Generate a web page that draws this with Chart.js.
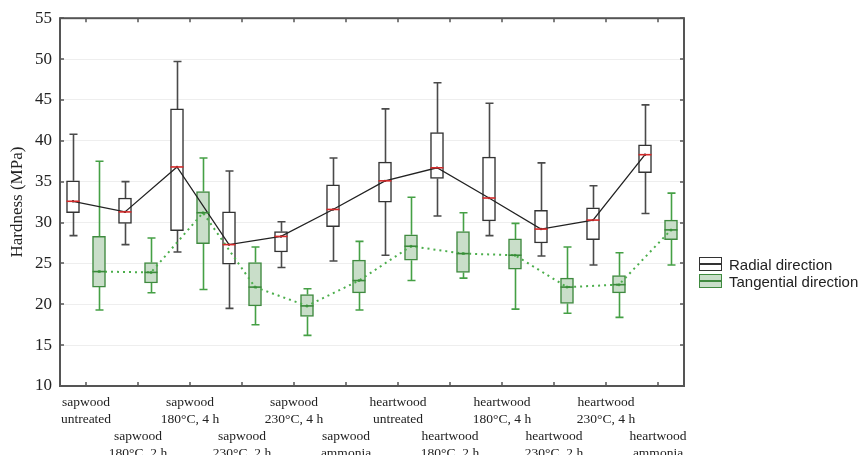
<!DOCTYPE html>
<html>
<head>
<meta charset="utf-8">
<script src="https://cdn.jsdelivr.net/npm/chart.js@4.4.1/dist/chart.umd.min.js"></script>
<style>
  html, body { margin: 0; padding: 0; background: #fff; }
  #wrap { position: relative; width: 862px; height: 455px; }
  #legend { position: absolute; left: 699px; top: 256px; font-family: "Liberation Sans", Arial, sans-serif; font-size: 15px; color: #222; }
  .li { position: relative; height: 17px; line-height: 17px; white-space: nowrap; }
  .ic { position: absolute; left: 0; top: 1px; width: 21px; height: 12px; box-sizing: content-box; }
  .ic::after { content: ""; position: absolute; left: 0; right: 0; top: 5px; height: 1.5px; }
  .rad { border: 1.5px solid #333; background: #fff; }
  .rad::after { background: #333; }
  .tan { border: 1.5px solid #3f8a3f; background: #c9dec9; }
  .tan::after { background: #3f8a3f; }
  .tx { position: absolute; left: 30px; top: 0; }
</style>
</head>
<body>
<div id="wrap">
  <canvas id="c" width="862" height="455"></canvas>
  <div id="legend">
    <div class="li"><span class="ic rad"></span><span class="tx">Radial direction</span></div>
    <div class="li"><span class="ic tan"></span><span class="tx">Tangential direction</span></div>
  </div>
</div>
<script>
// ---- data ----
const categories = [
  ['sapwood', 'untreated'],
  ['sapwood', '180°C, 2 h'],
  ['sapwood', '180°C, 4 h'],
  ['sapwood', '230°C, 2 h'],
  ['sapwood', '230°C, 4 h'],
  ['sapwood', 'ammonia'],
  ['heartwood', 'untreated'],
  ['heartwood', '180°C, 2 h'],
  ['heartwood', '180°C, 4 h'],
  ['heartwood', '230°C, 2 h'],
  ['heartwood', '230°C, 4 h'],
  ['heartwood', 'ammonia']
];
const seriesNames = ['Radial direction', 'Tangential direction'];
const yTicks = [10, 15, 20, 25, 30, 35, 40, 45, 50, 55];

const radialMin    = [28.4, 27.3, 26.4, 19.5, 24.5, 25.3, 26.0, 30.8, 28.4, 25.9, 24.8, 31.1];
const radialQ1     = [31.2, 29.9, 29.0, 24.9, 26.4, 29.5, 32.5, 35.4, 30.2, 27.5, 27.9, 36.1];
const radialMedian = [32.6, 31.3, 36.8, 27.3, 28.3, 31.6, 35.1, 36.7, 33.0, 29.2, 30.3, 38.3];
const radialQ3     = [35.1, 33.0, 43.9, 31.3, 28.9, 34.6, 37.4, 41.0, 38.0, 31.5, 31.8, 39.5];
const radialMax    = [40.8, 35.0, 49.7, 36.3, 30.1, 37.9, 43.9, 47.1, 44.6, 37.3, 34.5, 44.4];

const tangMin    = [19.3, 21.4, 21.8, 17.5, 16.2, 19.3, 22.9, 23.2, 19.4, 18.9, 18.4, 24.8];
const tangQ1     = [22.1, 22.6, 27.4, 19.8, 18.5, 21.4, 25.4, 23.9, 24.3, 20.1, 21.4, 27.9];
const tangMedian = [24.0, 23.9, 31.2, 22.1, 19.8, 22.9, 27.1, 26.2, 26.0, 22.1, 22.4, 29.1];
const tangQ3     = [28.3, 25.1, 33.8, 25.1, 21.2, 25.4, 28.5, 28.9, 28.0, 23.2, 23.5, 30.3];
const tangMax    = [37.5, 28.1, 37.9, 27.0, 21.9, 27.7, 33.1, 31.2, 29.9, 27.0, 26.3, 33.6];

// ---- styles ----
const OFFSET = 0.25;
const radColor = '#333333', radWhisker = '#4a4a4a', radMedianColor = '#d42a2a';
const tanBorder = '#3f8a3f', tanWhisker = '#45a045', tanFill = '#c9dec9', tanMedianColor = '#3a8a3a';
const serif = '"Liberation Serif", "Times New Roman", serif';

const idx = categories.map((_, i) => i);
const radBoxes = idx.map(i => ({ x: i - OFFSET, y: [radialQ1[i], radialQ3[i]] }));
const tanBoxes = idx.map(i => ({ x: i + OFFSET, y: [tangQ1[i], tangQ3[i]] }));
const radLine = idx.map(i => ({ x: i - OFFSET, y: radialMedian[i] }));
const tanLine = idx.map(i => ({ x: i + OFFSET, y: tangMedian[i] }));

const boxPlugin = {
  id: 'boxparts',
  beforeDatasetsDraw(chart) {
    const { ctx, scales: { x, y } } = chart;
    const cap = 4;
    const drawW = (off, mins, q1s, q3s, maxs, color) => {
      ctx.save();
      ctx.strokeStyle = color; ctx.lineWidth = 1.6;
      idx.forEach(i => {
        const px = Math.round(x.getPixelForValue(i + off)) + 0.5;
        ctx.beginPath();
        ctx.moveTo(px, y.getPixelForValue(maxs[i])); ctx.lineTo(px, y.getPixelForValue(q3s[i]));
        ctx.moveTo(px, y.getPixelForValue(q1s[i])); ctx.lineTo(px, y.getPixelForValue(mins[i]));
        ctx.moveTo(px - cap, y.getPixelForValue(maxs[i])); ctx.lineTo(px + cap, y.getPixelForValue(maxs[i]));
        ctx.moveTo(px - cap, y.getPixelForValue(mins[i])); ctx.lineTo(px + cap, y.getPixelForValue(mins[i]));
        ctx.stroke();
      });
      ctx.restore();
    };
    drawW(-OFFSET, radialMin, radialQ1, radialQ3, radialMax, radWhisker);
    drawW(OFFSET, tangMin, tangQ1, tangQ3, tangMax, tanWhisker);
  },
  afterDatasetsDraw(chart) {
    const { ctx, scales: { x, y } } = chart;
    const half = 6.5;
    const drawM = (off, meds, color) => {
      ctx.save();
      ctx.strokeStyle = color; ctx.lineWidth = 1.6;
      idx.forEach(i => {
        const px = x.getPixelForValue(i + off);
        const py = y.getPixelForValue(meds[i]);
        ctx.beginPath(); ctx.moveTo(px - half, py); ctx.lineTo(px + half, py); ctx.stroke();
      });
      ctx.restore();
    };
    drawM(-OFFSET, radialMedian, radMedianColor);
    drawM(OFFSET, tangMedian, tanMedianColor);
  },
  afterDraw(chart) {
    const { ctx, scales: { x, y }, chartArea: a } = chart;
    ctx.save();
    ctx.strokeStyle = '#555'; ctx.lineWidth = 2;
    ctx.strokeRect(a.left, a.top, a.right - a.left, a.bottom - a.top);
    ctx.lineWidth = 1.5;
    ctx.beginPath();
    idx.forEach(i => {
      const px = Math.round(x.getPixelForValue(i));
      ctx.moveTo(px, a.bottom); ctx.lineTo(px, a.bottom - 4);
      ctx.moveTo(px, a.top); ctx.lineTo(px, a.top + 4);
    });
    yTicks.forEach(v => {
      const py = Math.round(y.getPixelForValue(v));
      ctx.moveTo(a.left, py); ctx.lineTo(a.left + 4, py);
      ctx.moveTo(a.right, py); ctx.lineTo(a.right - 4, py);
    });
    ctx.stroke();
    ctx.restore();
  }
};

new Chart(document.getElementById('c'), {
  type: 'bar',
  data: {
    datasets: [
      { type: 'line', label: seriesNames[0] + ' line', data: radLine, borderColor: '#222', borderWidth: 1.3,
        pointRadius: 1.2, pointBackgroundColor: '#222', pointBorderWidth: 0, order: 0, tension: 0 },
      { type: 'line', label: seriesNames[1] + ' line', data: tanLine, borderColor: '#4cae4c', borderWidth: 2,
        borderDash: [2, 4], pointRadius: 1.5, pointBackgroundColor: '#4cae4c', pointBorderWidth: 0, order: 0, tension: 0 },
      { label: seriesNames[0], data: radBoxes, backgroundColor: '#ffffff', borderColor: radColor, borderWidth: 1.5,
        borderSkipped: false, barThickness: 13, grouped: false, order: 1 },
      { label: seriesNames[1], data: tanBoxes, backgroundColor: tanFill, borderColor: tanBorder, borderWidth: 1.5,
        borderSkipped: false, barThickness: 13, grouped: false, order: 1 }
    ]
  },
  options: {
    responsive: false,
    animation: false,
    events: [],
    layout: { padding: { top: 18, right: 178, left: 0, bottom: 0 } },
    plugins: { legend: { display: false }, tooltip: { enabled: false } },
    scales: {
      x: {
        type: 'linear', min: -0.5, max: 11.5, offset: false,
        afterBuildTicks: s => { s.ticks = idx.map(i => ({ value: i })); },
        afterFit: s => { s.height = 69; },
        grid: { display: false, drawTicks: false, offset: false },
        border: { display: false },
        ticks: {
          autoSkip: false, maxRotation: 0, padding: 7.5, color: '#222',
          font: { family: serif, size: 13.5, lineHeight: 1.26 },
          callback: (v) => {
            const c = categories[v];
            if (!c) return '';
            return (v % 2 === 0) ? c : ['', ''].concat(c);
          }
        }
      },
      y: {
        min: 10, max: 55,
        afterBuildTicks: s => { s.ticks = yTicks.map(v => ({ value: v })); },
        afterFit: s => { s.width = 60; },
        grid: { color: '#eeeeee', lineWidth: 1, drawTicks: false },
        border: { display: false },
        ticks: { padding: 8, color: '#222', font: { family: serif, size: 17 } },
        title: { display: true, text: 'Hardness (MPa)', color: '#222', font: { family: serif, size: 17 }, padding: { top: 7, bottom: 0 } }
      }
    }
  },
  plugins: [boxPlugin]
});
</script>
</body>
</html>
